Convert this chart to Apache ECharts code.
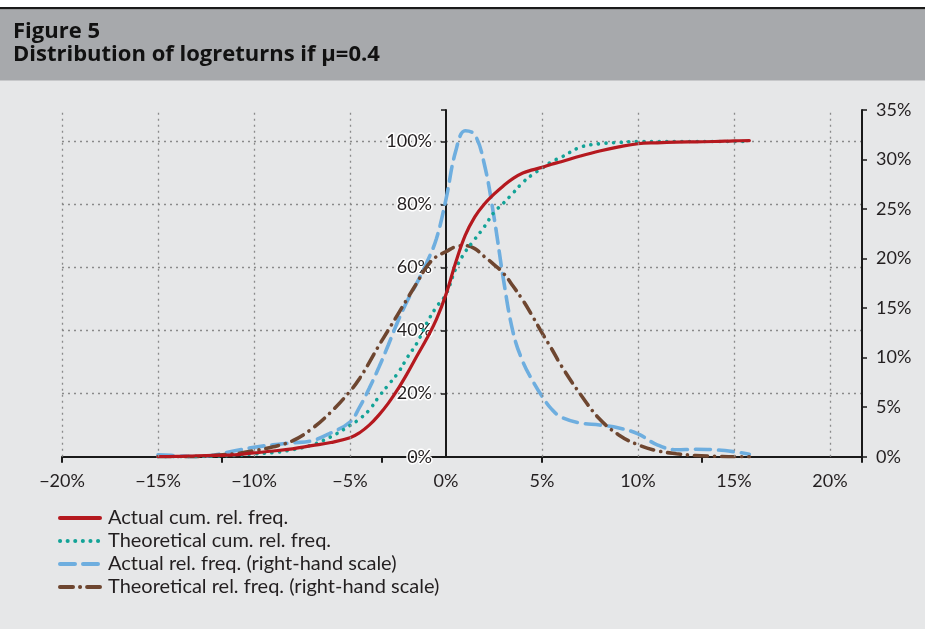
<!DOCTYPE html>
<html>
<head>
<meta charset="utf-8">
<script src="https://cdn.jsdelivr.net/npm/echarts@6/dist/echarts.min.js"></script>
<style>
html,body{margin:0;padding:0;background:#e6e7e8;}
#chart{width:925px;height:629px;}
</style>
</head>
<body>
<div id="chart"></div>
<script>
// x positions (logreturn, %)
var xValues = [-15,-14,-13,-12,-11,-10,-9,-8,-7,-6,-5,-4.5,-4,-3.5,-3,-2.5,-2,-1.5,-1,-0.5,0,0.5,1,1.5,2,2.5,3,3.5,4,4.5,5,5.5,6,7,8,9,10,11,12,13,14,15,15.8];
// left-hand scale (%)
var actualCum = [0,0.1,0.3,0.4,0.6,1.2,1.8,2.5,3.5,4.5,6.0,7.6,10.0,13.2,17,21.5,26.6,32.1,37.5,43.6,51.5,61.5,70.2,76.1,80.2,83.3,86,88.3,90,91,91.8,92.8,93.6,95.4,97,98.3,99.3,99.6,99.8,99.9,100,100.2,100.3];
var theoCum = [0,0,0.1,0.2,0.4,0.9,1.3,2.2,3.7,6.3,9.9,12,14.8,19,22.8,26.6,31.6,36.2,42.4,47.5,51.5,59.5,65,69,73,77.5,80.5,83.7,87,89.5,91.5,93.6,95,98.2,99.3,99.7,100,100,100,100,100,100,100];
// right-hand scale (%)
var actualRel = [0.2,0.1,0,0.2,0.6,0.95,1.2,1.4,1.6,2.4,3.5,5,6.9,9,11.3,13.7,15.8,17.6,19.6,22,26,30.8,32.9,32.5,29.5,24.2,17.8,12.5,9.6,7.7,6.1,4.8,4,3.4,3.2,2.9,2.3,1.2,0.7,0.75,0.7,0.5,0.25];
var theoRel = [0,0,0,0.15,0.3,0.6,1.0,1.6,2.8,4.5,6.6,7.9,9.5,11.2,12.8,14.4,16,17.6,19.2,20.2,20.7,21.2,21.3,21,20.2,19.4,18.5,17.2,15.8,14.2,12.5,10.9,9.2,6.3,3.8,2.2,1.2,0.6,0.3,0.12,0.05,0,0];
// x-axis tick marks (the source chart's tick marks sit at a different spacing than its labels)
var xTickValues = [-20, -35/3, -10/3, 5, 40/3, 65/3];
// vertical gridlines (at the labelled values)
var xGridValues = [-20, -15, -10, -5, 5, 10, 15, 20];
var seriesNames = ['Actual cum. rel. freq.','Theoretical cum. rel. freq.','Actual rel. freq. (right-hand scale)','Theoretical rel. freq. (right-hand scale)'];
var titleLines = ['Figure 5','Distribution of logreturns if \u03bc=0.4'];

function pairs(ys){ return xValues.map(function(x,i){ return [x, ys[i]]; }); }
var FONT = 'Lato';
var TFONT = '"Open Sans"';
var gridColor = '#8a8a8a';
var gridLineStyle = {color:gridColor, type:[2,4], width:1.3};
var chart = echarts.init(document.getElementById('chart'), null, {renderer:'canvas'});
var xMin = -20, xMax = 65/3;
var gridLeft = 62, gridRight = 63, plotW = 925 - gridLeft - gridRight;
var zeroOffset = -plotW * (0 - xMin) / (xMax - xMin);
chart.setOption({
  backgroundColor: '#e6e7e8',
  animation: false,
  graphic: [
    {type:'rect', shape:{x:0,y:0,width:925,height:7}, style:{fill:'#ffffff'}, silent:true},
    {type:'rect', shape:{x:0,y:7,width:925,height:2.5}, style:{fill:'#1a1a1a'}, silent:true},
    {type:'rect', shape:{x:0,y:9.5,width:925,height:71}, style:{fill:'#a7a9ac'}, silent:true},
    {type:'text', x:13, y:32, style:{text:titleLines[0], font:'bold 22px ' + TFONT, fill:'#111111', verticalAlign:'middle'}},
    {type:'text', x:13, y:55, style:{text:titleLines[1], font:'bold 22px ' + TFONT, fill:'#111111', verticalAlign:'middle'}}
  ],
  grid: {left:gridLeft, right:gridRight, top:110, height:346.7, containLabel:false},
  legend: {
    orient:'vertical', left:53, top:503, itemWidth:40, itemHeight:14, itemGap:3,
    itemStyle:{opacity:0},
    lineStyle:{width:4},
    textStyle:{fontFamily:FONT, fontSize:20, color:'#231f20', lineHeight:19.5, padding:[0,0,0,3]},
    data: seriesNames
  },
  xAxis: [
    {type:'value', min:xMin, max:xMax, interval:5, position:'bottom',
     axisLine:{show:true, onZero:false, lineStyle:{color:'#1a1a1a', width:2}},
     axisTick:{show:true, customValues:xTickValues, length:6, lineStyle:{color:'#1a1a1a', width:2}},
     axisLabel:{margin:15, fontFamily:FONT, fontSize:18, color:'#231f20',
       formatter:function(v){ var r=Math.round(v); if(Math.abs(v-r)>1e-6 || r%5!==0) return ''; return (r<0?'\u2212'+(-r):r)+'%'; }},
     splitLine:{show:false}
    }
  ],
  yAxis: [
    {type:'value', min:0, max:110, interval:20, position:'left', offset:zeroOffset,
     axisLine:{show:true, onZero:false, lineStyle:{color:'#1a1a1a', width:2}},
     axisTick:{show:true, length:5, lineStyle:{color:'#1a1a1a', width:1.5}},
     axisLabel:{margin:14, fontFamily:FONT, fontSize:18, color:'#231f20', textBorderColor:'#ffffff', textBorderWidth:3,
       formatter:function(v){ return v>100.5 ? '' : Math.round(v)+'%'; }},
     splitLine:{show:true, showMinLine:false, showMaxLine:false, lineStyle:gridLineStyle}
    },
    {type:'value', min:0, max:35, interval:5, position:'right',
     axisLine:{show:true, onZero:false, lineStyle:{color:'#1a1a1a', width:2}},
     axisTick:{show:true, length:5, lineStyle:{color:'#1a1a1a', width:1.5}},
     axisLabel:{margin:14, fontFamily:FONT, fontSize:18, color:'#231f20', formatter:'{value}%'},
     splitLine:{show:false}
    }
  ],
  series: [
    {name:'gridlines', type:'line', yAxisIndex:0, data:[], symbol:'none', silent:true, z:1,
     markLine:{silent:true, symbol:['none','none'], label:{show:false}, animation:false,
       lineStyle:gridLineStyle, emphasis:{disabled:true},
       data: xGridValues.map(function(v){ return {xAxis:v}; })}},
    {name:seriesNames[0], type:'line', yAxisIndex:0, data:pairs(actualCum), smooth:0.4, symbol:'none',
     lineStyle:{color:'#b5191f', width:3.2, cap:'round'}, itemStyle:{color:'#b5191f'}, z:4},
    {name:seriesNames[1], type:'line', yAxisIndex:0, data:pairs(theoCum), smooth:0.4, symbol:'none',
     lineStyle:{color:'#13a397', width:3.6, type:[0.1,7.5], cap:'round'}, itemStyle:{color:'#13a397'}, z:3},
    {name:seriesNames[2], type:'line', yAxisIndex:1, data:pairs(actualRel), smooth:0.4, symbol:'none',
     lineStyle:{color:'#6eaedf', width:3.6, type:[15,8], cap:'round'}, itemStyle:{color:'#6eaedf'}, z:2},
    {name:seriesNames[3], type:'line', yAxisIndex:1, data:pairs(theoRel), smooth:0.4, symbol:'none',
     lineStyle:{color:'#6e4630', width:3.6, type:[13,7,0.1,7], cap:'round'}, itemStyle:{color:'#6e4630'}, z:2}
  ]
});
</script>
</body>
</html>
